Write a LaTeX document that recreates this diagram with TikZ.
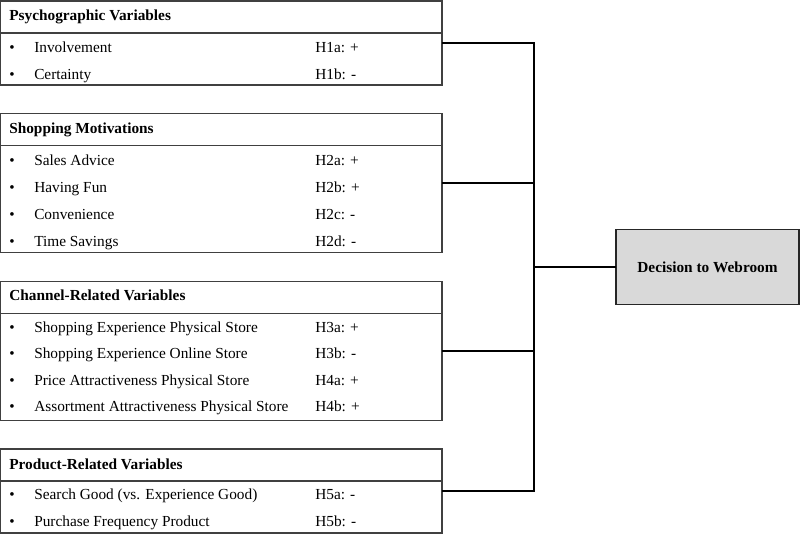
\documentclass[tikz,border=0pt]{standalone}
\usepackage{fontspec}
\setmainfont{Liberation Serif}
\usetikzlibrary{positioning}

\tikzset{
  group/.style={draw=black!75, line width=0.8pt, inner sep=0pt, outer sep=0pt, minimum width=331.1pt},
  head/.style={anchor=base west, inner sep=0pt, font=\fontsize{11.5}{13}\selectfont\bfseries},
  item/.style={anchor=base west, inner sep=0pt, font=\fontsize{11.5}{13}\selectfont},
  conn/.style={line width=1.5pt, black},
  target/.style={draw=black!85, line width=1pt, fill=black!15, minimum width=137.25pt, minimum height=56.25pt, inner sep=0pt, outer sep=0pt, font=\fontsize{11.5}{13}\selectfont\bfseries}
}

\begin{document}
\begin{tikzpicture}[x=0.75pt, y=-0.75pt]
    \useasboundingbox (0,0) rectangle (800,535);

    \node[group, minimum height=63pt] (psy) at (221.25,43) {};
    \draw[group] ([yshift=-24pt]psy.north west) -- ([yshift=-24pt]psy.north east);
    \node[head] (psy-head) at (9,20.5) {Psychographic Variables};
    \foreach \t/\h [count=\i] in {Involvement/H1a: +, Certainty/H1b: -} {
      \node[item] (psy-b\i) at (9,25.5+27*\i) {\textbullet};
      \node[item] (psy-\i) at (34,25.5+27*\i) {\t};
      \node[item] (psy-h\i) at (315,25.5+27*\i) {\h};
    }

    \node[group, minimum height=104.25pt] (shop) at (221.25,183) {};
    \draw[group] ([yshift=-24pt]shop.north west) -- ([yshift=-24pt]shop.north east);
    \node[head] (shop-head) at (9,133.5) {Shopping Motivations};
    \foreach \t/\h [count=\i] in {Sales Advice/H2a: +, Having Fun/H2b: +, Convenience/H2c: -, Time Savings/H2d: -} {
      \node[item] (shop-b\i) at (9,138.5+27*\i) {\textbullet};
      \node[item] (shop-\i) at (34,138.5+27*\i) {\t};
      \node[item] (shop-h\i) at (315,138.5+27*\i) {\h};
    }

    \node[group, minimum height=104.25pt] (chan) at (221.25,351) {};
    \draw[group] ([yshift=-24pt]chan.north west) -- ([yshift=-24pt]chan.north east);
    \node[head] (chan-head) at (9,300.5) {Channel-Related Variables};
    \foreach \t/\h [count=\i] in {Shopping Experience Physical Store/H3a: +, Shopping Experience Online Store/H3b: -, Price Attractiveness Physical Store/H4a: +, Assortment Attractiveness Physical Store/H4b: +} {
      \node[item] (chan-b\i) at (9,305.5+26.5*\i) {\textbullet};
      \node[item] (chan-\i) at (34,305.5+26.5*\i) {\t};
      \node[item] (chan-h\i) at (315,305.5+26.5*\i) {\h};
    }

    \node[group, minimum height=63pt] (prod) at (221.25,491) {};
    \draw[group] ([yshift=-24pt]prod.north west) -- ([yshift=-24pt]prod.north east);
    \node[head] (prod-head) at (9,469) {Product-Related Variables};
    \foreach \t/\h [count=\i] in {Search Good (vs. Experience Good)/H5a: -, Purchase Frequency Product/H5b: -} {
      \node[item] (prod-b\i) at (9,473+26.5*\i) {\textbullet};
      \node[item] (prod-\i) at (34,473+26.5*\i) {\t};
      \node[item] (prod-h\i) at (315,473+26.5*\i) {\h};
    }

    \node[target] (decision) at (707.5,267) {Decision to Webroom};
    \coordinate (bus) at (534,267);

    \draw[conn] (psy.east) -- (psy.east -| bus) -- (prod.east -| bus) -- (prod.east);
    \draw[conn] (shop.east) -- (shop.east -| bus);
    \draw[conn] (chan.east) -- (chan.east -| bus);
    \draw[conn] (bus) -- (decision.west);
\end{tikzpicture}
\end{document}
